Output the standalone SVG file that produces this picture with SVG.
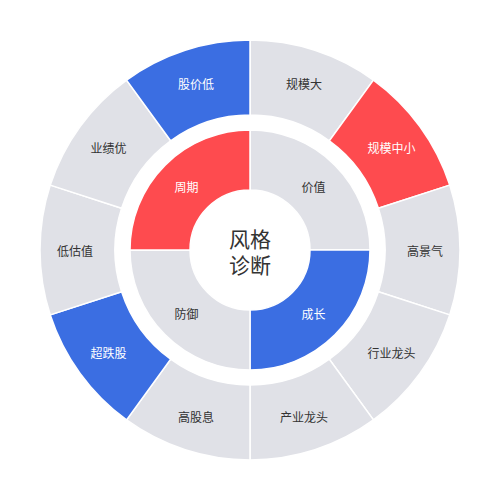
<svg xmlns="http://www.w3.org/2000/svg" width="500" height="500" viewBox="0 0 500 500">
<style>
.seg{stroke:#fff;stroke-width:1.5}
.g{fill:#e0e1e7}
.r{fill:#fe4b4f}
.b{fill:#3b6ee2}
text{font-family:"Noto Sans CJK SC","Noto Sans",sans-serif;font-size:12px;text-anchor:middle;dominant-baseline:central}
.dk{fill:#333}
.wt{fill:#fff}
.ct{font-size:21px;fill:#333}
</style>
<rect width="500" height="500" fill="#fff"/>
<g id="outer">
<g id="n-guimoda"><path class="seg g" d="M250,40 A210,210 0 0 1 373.435,80.106 L329.351,140.783 A135,135 0 0 0 250,115 Z"/><text class="dk" x="304.1" y="83.6">规模大</text></g>
<g id="n-guimozhongxiao"><path class="seg r" d="M373.435,80.106 A210,210 0 0 1 449.722,185.106 L378.393,208.283 A135,135 0 0 0 329.351,140.783 Z"/><text class="wt" x="391.6" y="147.1">规模中小</text></g>
<g id="n-gaojingqi"><path class="seg g" d="M449.722,185.106 A210,210 0 0 1 449.722,314.894 L378.393,291.717 A135,135 0 0 0 378.393,208.283 Z"/><text class="dk" x="425" y="250">高景气</text></g>
<g id="n-hangyelongtou"><path class="seg g" d="M449.722,314.894 A210,210 0 0 1 373.435,419.894 L329.351,359.217 A135,135 0 0 0 378.393,291.717 Z"/><text class="dk" x="391.6" y="352.9">行业龙头</text></g>
<g id="n-chanyelongtou"><path class="seg g" d="M373.435,419.894 A210,210 0 0 1 250,460 L250,385 A135,135 0 0 0 329.351,359.217 Z"/><text class="dk" x="304.1" y="416.4">产业龙头</text></g>
<g id="n-gaoguxi"><path class="seg g" d="M250,460 A210,210 0 0 1 126.565,419.894 L170.649,359.217 A135,135 0 0 0 250,385 Z"/><text class="dk" x="195.9" y="416.4">高股息</text></g>
<g id="n-chaodiegu"><path class="seg b" d="M126.565,419.894 A210,210 0 0 1 50.278,314.894 L121.607,291.717 A135,135 0 0 0 170.649,359.217 Z"/><text class="wt" x="108.4" y="352.9">超跌股</text></g>
<g id="n-diguzhi"><path class="seg g" d="M50.278,314.894 A210,210 0 0 1 50.278,185.106 L121.607,208.283 A135,135 0 0 0 121.607,291.717 Z"/><text class="dk" x="75" y="250">低估值</text></g>
<g id="n-yejiyou"><path class="seg g" d="M50.278,185.106 A210,210 0 0 1 126.565,80.106 L170.649,140.783 A135,135 0 0 0 121.607,208.283 Z"/><text class="dk" x="108.4" y="147.1">业绩优</text></g>
<g id="n-gujiadi"><path class="seg b" d="M126.565,80.106 A210,210 0 0 1 250,40 L250,115 A135,135 0 0 0 170.649,140.783 Z"/><text class="wt" x="195.9" y="83.6">股价低</text></g>
</g>
<g id="inner">
<g id="n-jiazhi"><path class="seg g" d="M250,130 A120,120 0 0 1 370,250 L310,250 A60,60 0 0 0 250,190 Z"/><text class="dk" x="313.6" y="186.4">价值</text></g>
<g id="n-chengzhang"><path class="seg b" d="M370,250 A120,120 0 0 1 250,370 L250,310 A60,60 0 0 0 310,250 Z"/><text class="wt" x="313.6" y="313.6">成长</text></g>
<g id="n-fangyu"><path class="seg g" d="M250,370 A120,120 0 0 1 130,250 L190,250 A60,60 0 0 0 250,310 Z"/><text class="dk" x="186.4" y="313.6">防御</text></g>
<g id="n-zhouqi"><path class="seg r" d="M130,250 A120,120 0 0 1 250,130 L250,190 A60,60 0 0 0 190,250 Z"/><text class="wt" x="186.4" y="186.4">周期</text></g>
</g>
<g id="center">
<circle cx="250" cy="250" r="59.5" fill="#fff"/>
<text class="ct" x="250" y="238">风格<tspan x="250" dy="26">诊断</tspan></text>
</g>
<g id="connectors"></g>
</svg>
